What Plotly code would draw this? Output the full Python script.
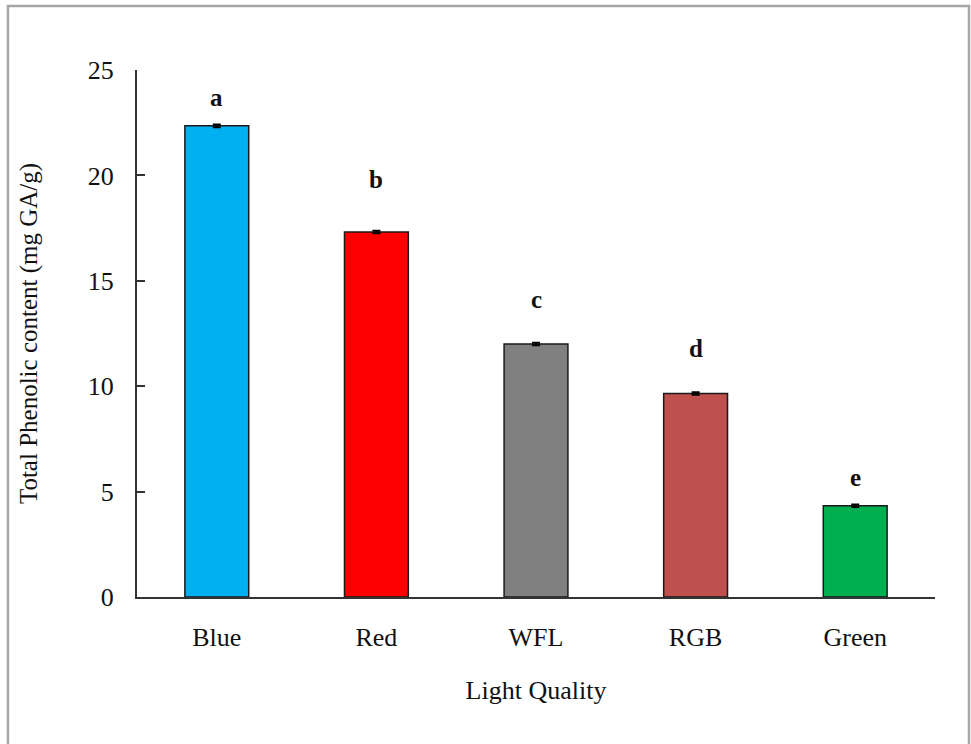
import plotly.graph_objects as go

# Light-quality treatments and total phenolic content (mg GA/g)
categories = ["Blue", "Red", "WFL", "RGB", "Green"]
phenolic = [22.35, 17.32, 12.0, 9.65, 4.33]
errors = [0.06, 0.06, 0.06, 0.06, 0.06]
group_letters = ["a", "b", "c", "d", "e"]
letter_y = [23.7, 19.8, 14.1, 11.8, 5.65]
bar_colors = ["#00B0F0", "#FF0000", "#808080", "#C0504D", "#00B050"]
y_ticks = [0, 5, 10, 15, 20, 25]

FONT = "Liberation Serif, Times New Roman, serif"

fig = go.Figure()
fig.add_trace(go.Bar(
    x=categories,
    y=phenolic,
    width=0.4,
    marker=dict(color=bar_colors, line=dict(color="#1a1a1a", width=1.5)),
    error_y=dict(type="data", array=errors, visible=True,
                 color="#000000", thickness=2, width=4),
    showlegend=False,
))

# significance letters above each bar
for cat, lab, ly in zip(categories, group_letters, letter_y):
    fig.add_annotation(x=cat, y=ly, text="<b>%s</b>" % lab, showarrow=False,
                       xref="x", yref="y",
                       font=dict(family=FONT, size=25, color="#111111"))

# grey frame around the figure
fig.add_shape(type="rect", xref="paper", yref="paper",
              x0=-0.1617, x1=1.0426, y0=-0.35, y1=1.1214,
              line=dict(color="#a6a6a6", width=2.5), fillcolor="rgba(0,0,0,0)",
              layer="below")

fig.update_layout(
    width=971, height=744,
    margin=dict(l=137, r=36, t=70, b=147),
    paper_bgcolor="white",
    plot_bgcolor="white",
    font=dict(family=FONT, size=25, color="#111111"),
    bargap=0.6,
    xaxis=dict(
        range=[-0.5, 4.5],
        showline=True, linecolor="#333333", linewidth=2,
        ticks="", showgrid=False, zeroline=False,
        tickfont=dict(family=FONT, size=26),
        ticklabelstandoff=16,
        title=dict(text="Light Quality", font=dict(family=FONT, size=26), standoff=30),
    ),
    yaxis=dict(
        range=[0, 25],
        tickvals=y_ticks,
        showline=True, linecolor="#333333", linewidth=2,
        ticks="inside", ticklen=8, tickwidth=2, tickcolor="#333333",
        showgrid=False, zeroline=False,
        tickfont=dict(family=FONT, size=26),
        ticklabelstandoff=16,
        title=dict(text="Total Phenolic content (mg GA/g)",
                   font=dict(family=FONT, size=25), standoff=43),
    ),
)

fig.write_html("out.html")
